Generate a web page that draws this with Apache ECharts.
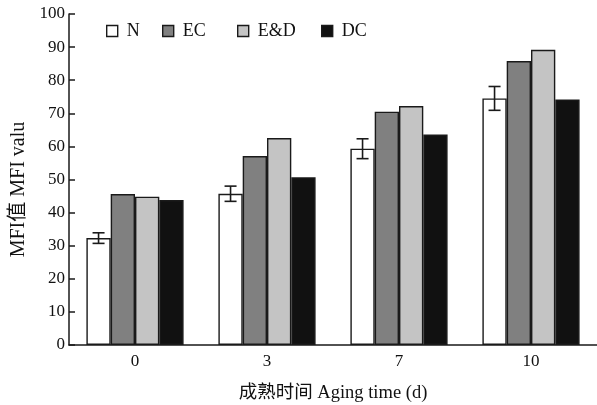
<!DOCTYPE html>
<html>
<head>
<meta charset="utf-8">
<script src="https://cdn.jsdelivr.net/npm/echarts@6/dist/echarts.min.js"></script>
<style>
html,body{margin:0;padding:0;background:#fff;}
#c{width:597px;height:405px;}
</style>
</head>
<body>
<div id="c"></div>
<script>
const categories = ['0', '3', '7', '10'];
const seriesNames = ['N', 'EC', 'E&D', 'DC'];
const valuesN = [32.3, 45.7, 59.3, 74.5];
const errorsN = [1.6, 2.3, 3.0, 3.6];
const valuesEC = [45.6, 57.1, 70.5, 85.8];
const valuesED = [44.8, 62.5, 72.2, 89.2];
const valuesDC = [43.8, 50.7, 63.6, 74.2];
const yTicks = [0, 10, 20, 30, 40, 50, 60, 70, 80, 90, 100];

const colors = ['#ffffff', '#808080', '#c4c4c4', '#111111'];
const FONT = '"Liberation Serif", "Times New Roman", "Noto Sans CJK SC", serif';
const BAR_W = 24.3;
const legendLefts = [106, 162, 237, 321];

const chart = echarts.init(document.getElementById('c'), null, {renderer: 'canvas'});
const allValues = [valuesN, valuesEC, valuesED, valuesDC];

const barSeries = seriesNames.map((name, i) => ({
  name: name,
  type: 'bar',
  data: allValues[i],
  barWidth: BAR_W,
  barGap: '0%',
  itemStyle: {color: colors[i], borderColor: '#1a1a1a', borderWidth: 1.4},
  emphasis: {disabled: true}
}));

const errSeries = {
  type: 'custom',
  name: 'errN',
  data: valuesN.map((v, i) => [i, v, errorsN[i]]),
  z: 10,
  renderItem: function (params, api) {
    const idx = api.value(0), v = api.value(1), e = api.value(2);
    const top = api.coord([idx, v + e]);
    const bot = api.coord([idx, v - e]);
    const x = top[0] - 1.5 * BAR_W;
    const hw = 6;
    const st = {stroke: '#1a1a1a', lineWidth: 1.6};
    return {
      type: 'group',
      children: [
        {type: 'line', shape: {x1: x, y1: top[1], x2: x, y2: bot[1]}, style: st},
        {type: 'line', shape: {x1: x - hw, y1: top[1], x2: x + hw, y2: top[1]}, style: st},
        {type: 'line', shape: {x1: x - hw, y1: bot[1], x2: x + hw, y2: bot[1]}, style: st}
      ]
    };
  }
};

const legends = seriesNames.map((name, i) => ({
  data: [name],
  left: legendLefts[i],
  top: 22,
  padding: 0,
  icon: 'rect',
  itemWidth: 11,
  itemHeight: 11,
  itemStyle: {borderColor: '#1a1a1a', borderWidth: 1.4},
  textStyle: {fontFamily: FONT, fontSize: 18, color: '#111', padding: [0, 0, 0, 4]}
}));

chart.setOption({
  animation: false,
  backgroundColor: '#ffffff',
  textStyle: {fontFamily: FONT, color: '#111'},
  grid: {left: 69, right: 0, top: 14, bottom: 60, containLabel: false, outerBoundsMode: 'none'},
  legend: legends,
  xAxis: {
    type: 'category',
    data: categories,
    name: '成熟时间 Aging time (d)',
    nameLocation: 'middle',
    nameGap: 39,
    nameTextStyle: {fontFamily: FONT, fontSize: 18.5, color: '#111'},
    axisLine: {lineStyle: {color: '#1a1a1a', width: 1.5}},
    axisTick: {inside: true, length: 6, lineStyle: {color: '#1a1a1a', width: 1.5}},
    axisLabel: {fontFamily: FONT, fontSize: 17, color: '#111', margin: 8}
  },
  yAxis: {
    type: 'value',
    min: 0,
    max: 100,
    interval: 10,
    name: 'MFI值 MFI valu',
    nameLocation: 'middle',
    nameGap: 40,
    nameTextStyle: {fontFamily: FONT, fontSize: 20, color: '#111', padding: [0, 20, 0, 0]},
    splitLine: {show: false},
    axisLine: {show: true, lineStyle: {color: '#1a1a1a', width: 1.5}},
    axisTick: {show: true, inside: true, length: 6, lineStyle: {color: '#1a1a1a', width: 1.5}},
    axisLabel: {
      fontFamily: FONT, fontSize: 17, color: '#111', margin: 4,
      formatter: function (v) { return yTicks.indexOf(v) >= 0 ? String(v) : ''; }
    }
  },
  series: barSeries.concat([errSeries])
});
</script>
</body>
</html>
